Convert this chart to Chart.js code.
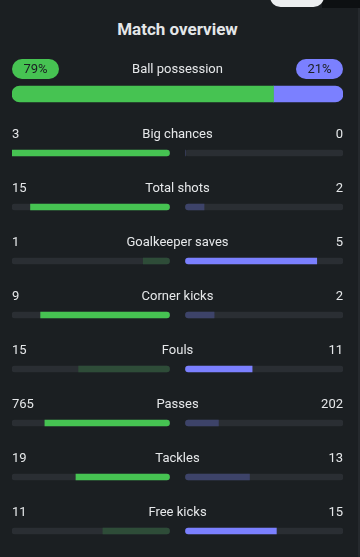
<!DOCTYPE html>
<html>
<head>
<meta charset="utf-8">
<script src="https://cdn.jsdelivr.net/npm/chart.js@4"></script>
<style>
  html, body { margin: 0; padding: 0; }
  body { width: 360px; height: 557px; overflow: hidden; background: #1b1f22; position: relative; font-family: Roboto, "Noto Sans", sans-serif; }
  #topTab { position: absolute; left: 270px; top: -14px; width: 54px; height: 21px; border-radius: 11px; background: #eceef0; }
  #topDark { position: absolute; left: 322px; top: 0; width: 38px; height: 8px; background: #0d1012; }
  #edge { position: absolute; left: 358px; top: 8px; width: 2px; height: 549px; background: #25292d; }
  #title { position: absolute; left: 0; width: 355px; top: 19px; text-align: center; color: #e4e6e8; font-weight: 700; font-size: 17px; }
  #possCanvas { position: absolute; left: 0; top: 50px; }
  #statsCanvas { position: absolute; left: 0; top: 100px; }
</style>
</head>
<body>
<div id="topDark"></div>
<div id="topTab"></div>
<div id="edge"></div>
<div id="title">Match overview</div>
<canvas id="possCanvas" width="360" height="60"></canvas>
<canvas id="statsCanvas" width="360" height="460"></canvas>
<script>
// possession
const possLabel = "Ball possession";
const possHome = 79;
const possAway = 21;

// stat rows
const statNames = ["Big chances", "Total shots", "Goalkeeper saves", "Corner kicks", "Fouls", "Passes", "Tackles", "Free kicks"];
const homeValues = [3, 15, 1, 9, 15, 765, 19, 11];
const awayValues = [0, 2, 5, 2, 11, 202, 13, 15];
const betterSide = ["home", "home", "away", "home", "away", "home", "home", "away"];

const GREEN = "#46c352", BLUE = "#7b80ff";
const GREEN_DIM = "#2e4c38", BLUE_DIM = "#3d4369";
const TRACK = "#2a2e33", TEXT = "#e6e8ea", BG = "#1b1f22";
const FONT = "13px Roboto, 'Noto Sans', sans-serif";

Chart.defaults.font.family = "Roboto, 'Noto Sans', sans-serif";

function roundRect(ctx, x, y, w, h, r) {
  ctx.beginPath();
  ctx.moveTo(x + r, y);
  ctx.arcTo(x + w, y, x + w, y + h, r);
  ctx.arcTo(x + w, y + h, x, y + h, r);
  ctx.arcTo(x, y + h, x, y, r);
  ctx.arcTo(x, y, x + w, y, r);
  ctx.closePath();
}

// possession chart: stacked 100% bar
const possText = {
  id: "possText",
  afterDraw(chart) {
    const ctx = chart.ctx;
    const y = 19;
    ctx.save();
    ctx.font = FONT;
    ctx.textBaseline = "middle";
    ctx.fillStyle = GREEN;
    roundRect(ctx, 12, y - 10, 47, 20, 10); ctx.fill();
    ctx.fillStyle = BLUE;
    roundRect(ctx, 296, y - 10, 47, 20, 10); ctx.fill();
    ctx.textAlign = "center";
    ctx.fillStyle = BG;
    ctx.fillText(possHome + "%", 35.5, y + 1);
    ctx.fillText(possAway + "%", 319.5, y + 1);
    ctx.fillStyle = TEXT;
    ctx.fillText(possLabel, 177.5, y + 1);
    ctx.restore();
  }
};

new Chart(document.getElementById("possCanvas"), {
  type: "bar",
  data: {
    labels: [possLabel],
    datasets: [
      { data: [possHome], backgroundColor: GREEN, borderSkipped: false,
        borderRadius: { topLeft: 8, bottomLeft: 8, topRight: 0, bottomRight: 0 } },
      { data: [possAway], backgroundColor: BLUE, borderSkipped: false,
        borderRadius: { topLeft: 0, bottomLeft: 0, topRight: 8, bottomRight: 8 } }
    ]
  },
  options: {
    indexAxis: "y",
    responsive: false,
    animation: false,
    barThickness: 16,
    layout: { padding: { left: 12, right: 17, top: 28, bottom: 0 } },
    scales: {
      x: { stacked: true, min: 0, max: possHome + possAway, display: false },
      y: { stacked: true, display: false }
    },
    plugins: { legend: { display: false }, tooltip: { enabled: false } }
  },
  plugins: [possText]
});

// stats chart: floating bars on a -1..1 scale, with a gap in the middle
const G = 8 / 165.5;
const share = (a, b) => (a + b) ? a / (a + b) : 0;
const homeFill = homeValues.map((h, i) => [-(G + (1 - G) * share(h, awayValues[i])), -G]);
const awayFill = awayValues.map((a, i) => [G, G + (1 - G) * share(a, homeValues[i])]);
const homeColors = betterSide.map(s => s === "home" ? GREEN : GREEN_DIM);
const awayColors = betterSide.map(s => s === "away" ? BLUE : BLUE_DIM);

const rowText = {
  id: "rowText",
  afterDraw(chart) {
    const ctx = chart.ctx;
    const ys = chart.scales.y;
    ctx.save();
    ctx.font = FONT;
    ctx.textBaseline = "middle";
    ctx.fillStyle = TEXT;
    statNames.forEach((name, i) => {
      const y = ys.getPixelForValue(i) - 18;
      ctx.textAlign = "left";
      ctx.fillText(String(homeValues[i]), 12, y);
      ctx.textAlign = "center";
      ctx.fillText(name, 177.5, y);
      ctx.textAlign = "right";
      ctx.fillText(String(awayValues[i]), 343, y);
    });
    ctx.restore();
  }
};

new Chart(document.getElementById("statsCanvas"), {
  type: "bar",
  data: {
    labels: statNames,
    datasets: [
      { data: homeFill, backgroundColor: homeColors, borderSkipped: false,
        borderRadius: { topLeft: 0, bottomLeft: 0, topRight: 3, bottomRight: 3 } },
      { data: awayFill, backgroundColor: awayColors, borderSkipped: false,
        borderRadius: { topLeft: 3, bottomLeft: 3, topRight: 0, bottomRight: 0 } },
      { data: statNames.map(() => [-1, -G]), backgroundColor: TRACK, borderSkipped: false, borderRadius: 3 },
      { data: statNames.map(() => [G, 1]), backgroundColor: TRACK, borderSkipped: false, borderRadius: 3 }
    ]
  },
  options: {
    indexAxis: "y",
    responsive: false,
    animation: false,
    grouped: false,
    barThickness: 6,
    layout: { padding: { left: 12, right: 17, top: 26, bottom: 2 } },
    scales: {
      x: { min: -1, max: 1, display: false },
      y: { display: false }
    },
    plugins: { legend: { display: false }, tooltip: { enabled: false } }
  },
  plugins: [rowText]
});
</script>
</body>
</html>
